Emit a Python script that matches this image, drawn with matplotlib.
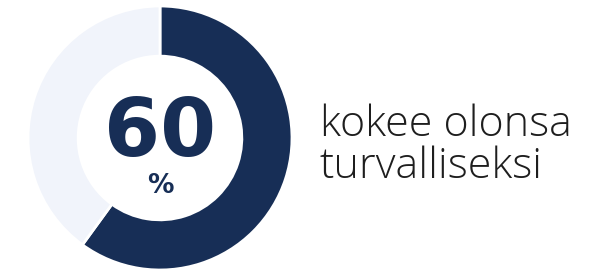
import matplotlib
matplotlib.use("Agg")
import matplotlib.pyplot as plt

values = [60, 40]
colors = ["#172e56", "#f1f4fb"]
center_value = "60"
center_unit = "%"
label_text = "kokee olonsa\nturvalliseksi"

W, H = 598, 274
fig = plt.figure(figsize=(W/100, H/100), dpi=100)
fig.patch.set_facecolor("white")

cx, cy, r = 160, 138, 132
ax = fig.add_axes([(cx - r)/W, (H - cy - r)/H, 2*r/W, 2*r/H])
ax.pie(values, colors=colors, startangle=90, counterclock=False,
       radius=1.0, wedgeprops=dict(width=0.38, edgecolor="white", linewidth=2))
ax.set_xlim(-1, 1); ax.set_ylim(-1, 1)
ax.set_aspect("equal")
ax.axis("off")

ax.text(0, 0.03, center_value, ha="center", va="center", fontsize=58,
        fontweight="bold", family=["DejaVu Sans"], color="#172e56")
ax.text(0, -0.36, center_unit, ha="center", va="center", fontsize=19,
        fontweight="bold", family=["DejaVu Sans"], color="#172e56")

fig.text(320/W, 1 - 146/H, label_text, ha="left", va="center", fontsize=31,
         fontweight=300, family=["Open Sans", "DejaVu Sans"], color="#1e1e1e",
         linespacing=0.98)

fig.savefig("out.png", dpi=100, facecolor="white")
